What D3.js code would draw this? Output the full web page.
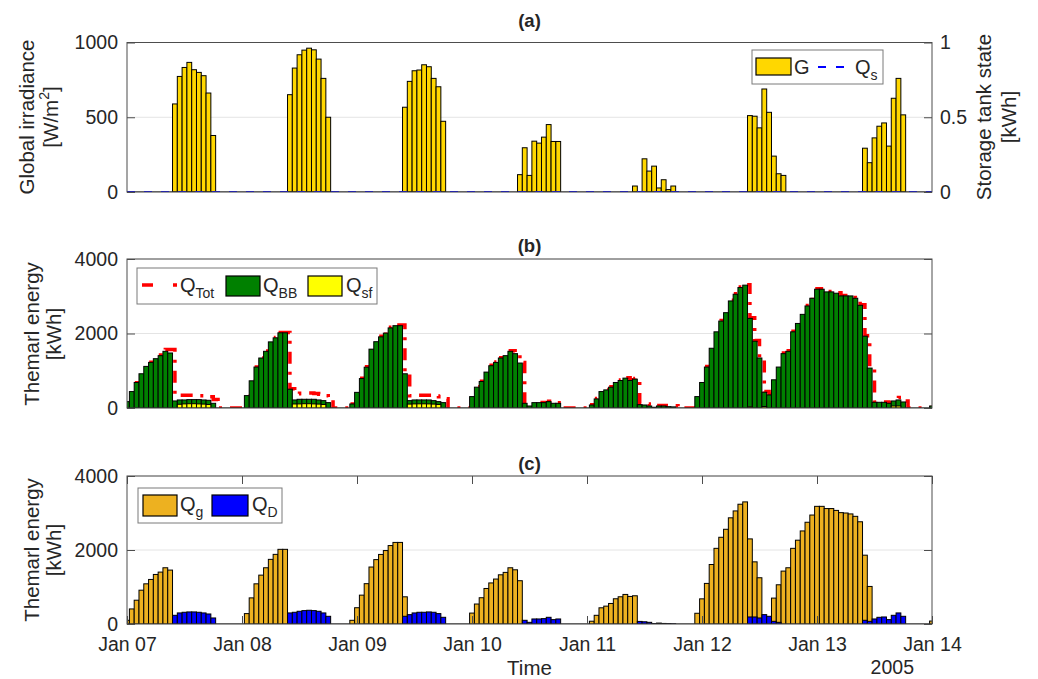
<!DOCTYPE html>
<html><head><meta charset="utf-8">
<script src="https://cdn.jsdelivr.net/npm/d3@7"></script>
<style>body{margin:0;background:#fff}svg text{font-family:"Liberation Sans",Arial,Helvetica,sans-serif;fill:#262626}</style>
</head><body><svg id="c" width="1038" height="679"></svg>
<script>
// ---------- DATA (hourly, 2005-01-07 00:00 .. 2005-01-14 00:00) ----------
const dayTicks = ["Jan 07","Jan 08","Jan 09","Jan 10","Jan 11","Jan 12","Jan 13","Jan 14"];
const yearLabel = "2005";
const G = [
 0,0,0,0,0,0,0,0,0,0,589,773,833,867,818,800,778,662,378,0,0,0,0,0,
 0,0,0,0,0,0,0,0,0,0,651,829,918,949,962,951,889,760,500,0,0,0,0,0,
 0,0,0,0,0,0,0,0,0,0,567,740,811,816,851,838,760,704,473,0,0,0,0,0,
 0,0,0,0,0,0,0,0,0,0,116,296,111,340,327,367,451,338,338,0,0,0,0,0,
 0,0,0,0,0,0,0,0,0,0,40,0,222,140,173,27,82,16,40,0,0,0,0,0,
 0,0,0,0,0,0,0,0,0,0,511,507,429,689,533,240,122,111,0,0,0,0,0,0,
 0,0,0,0,0,0,0,0,0,0,293,196,362,440,462,307,627,760,516,0,0,0,0,0,
 0];
const Qs = [0,0];            // storage tank state at first and last hour
const QsHours = [0,168];
const QTot = [
 100,440,680,930,1110,1230,1350,1420,1570,1570,330,340,340,340,340,330,310,300,230,0,0,0,0,0,
 0,330,730,1100,1340,1530,1775,1890,2030,2030,520,380,396,400,400,390,370,330,250,0,0,0,0,110,
 420,800,1110,1600,1800,1925,2030,2170,2230,2230,930,330,340,340,340,340,320,300,250,0,0,0,0,0,
 320,570,720,975,1145,1235,1350,1415,1535,1470,1220,140,80,150,150,150,180,140,140,0,0,0,0,0,
 0,90,255,450,495,570,695,750,815,760,790,120,110,60,40,70,70,65,60,0,0,0,0,320,
 700,1115,1620,2060,2350,2575,2890,3070,3250,3310,2420,1810,1360,440,370,770,1115,1475,1540,2060,2285,2530,2755,2960,
 3200,3200,3130,3130,3095,3020,3020,3020,2960,2770,1940,1090,160,160,160,140,240,280,190,0,0,0,0,0,
 60];
const QBB = [
 171,441,685,919,1117,1225,1324,1405,1522,1477,189,216,216,225,225,225,216,207,126,0,0,0,0,0,
 0,333,730,1099,1342,1522,1775,1883,2018,2018,505,216,234,234,234,234,216,198,144,0,0,0,0,108,
 420,790,1095,1580,1780,1910,2010,2150,2210,2210,919,198,216,216,216,216,198,171,144,0,0,0,0,0,
 306,559,712,964,1135,1225,1342,1405,1522,1459,1207,126,54,144,144,144,171,126,126,0,0,0,0,0,
 0,81,243,441,486,559,685,739,802,739,775,90,81,54,20,54,54,36,30,0,0,0,0,306,
 685,1099,1604,2045,2334,2559,2874,3054,3234,3298,2406,1793,1342,423,351,757,1099,1459,1522,2045,2270,2514,2739,2946,
 3189,3189,3117,3117,3081,3009,3009,3009,2946,2757,1928,1072,153,153,153,126,189,216,162,0,0,0,0,0,
 54];
const Qsf = [
 0,0,0,0,0,0,0,0,0,0,0,100,110,115,115,110,105,95,0,0,0,0,0,0,
 0,0,0,0,0,0,0,0,0,0,0,108,110,115,115,110,105,95,0,0,0,0,0,0,
 0,0,0,0,0,0,0,0,0,0,0,105,110,112,112,110,105,95,0,0,0,0,0,0,
 0,0,0,0,0,0,0,0,0,0,0,0,0,0,0,0,0,0,0,0,0,0,0,0,
 0,0,0,0,0,0,0,0,0,0,0,0,0,0,0,0,0,0,0,0,0,0,0,0,
 0,0,0,0,0,0,0,0,0,0,30,0,0,40,0,0,0,0,0,0,0,0,0,0,
 0,0,0,0,0,0,0,0,0,0,0,0,0,0,0,0,54,54,0,0,0,0,0,0,
 0];
const Qg = [
 100,407,643,914,1086,1204,1339,1403,1520,1457,0,0,0,0,0,0,0,0,0,0,0,0,0,0,
 0,281,706,1086,1321,1520,1747,1882,2018,2018,0,0,0,0,0,0,0,0,0,0,0,0,0,100,
 440,780,1090,1540,1740,1880,1985,2120,2205,2205,735,0,0,0,0,0,0,0,0,0,0,0,0,0,
 295,540,710,960,1110,1215,1330,1395,1520,1465,1170,0,0,0,0,0,0,0,0,0,0,0,0,0,
 0,75,235,438,483,555,682,736,799,745,763,0,0,0,0,0,0,0,0,0,0,0,0,290,
 680,1097,1608,2045,2344,2560,2870,3056,3237,3300,2300,1680,1250,0,0,700,1060,1430,1520,2045,2265,2515,2750,2945,
 3180,3180,3120,3120,3070,3010,3000,2975,2910,2763,1860,1015,0,0,0,0,0,0,0,0,0,0,0,0,
 80];
const QD = [
 0,0,0,0,0,0,0,0,0,0,235,299,317,326,326,317,299,271,163,0,0,0,0,0,
 0,0,0,0,0,0,0,0,0,0,299,317,344,362,371,362,344,299,208,0,0,0,0,0,
 0,0,0,0,0,0,0,0,0,0,208,253,299,317,317,326,317,281,181,0,0,0,0,0,
 0,0,0,0,0,0,0,0,0,0,0,100,45,136,136,145,181,118,136,0,0,0,0,0,
 0,0,0,0,0,0,0,0,0,0,0,70,60,45,10,25,15,10,5,0,0,0,0,0,
 0,0,0,0,0,0,0,0,0,0,190,190,163,253,208,72,45,0,0,0,0,0,0,0,
 0,0,0,0,0,0,0,0,0,0,100,72,136,181,190,118,235,299,208,0,0,0,0,0,
 0];
const ticksA = [0,500,1000];
const ticksA2 = [0,0.5,1];
const ticksBC = [0,2000,4000];

// ---------- LAYOUT ----------
const svg = d3.select("#c");
const XL = 127, XR = 932;
const t0 = Date.UTC(2005,0,7);
const hr = h => new Date(t0 + h*3600e3);
const x = d3.scaleUtc().domain([hr(0), hr(168)]).range([XL, XR]);
const bw = x(hr(1)) - x(hr(0));
const AX = "#4d4d4d";
const TICKFS = 19.5, LABFS = 20.5, LEGFS = 20, SUBFS = 14;

function panel(id, top, bot, ymax, yt) {
  const y = d3.scaleLinear().domain([0, ymax]).range([bot, top]);
  svg.append("clipPath").attr("id", "clip"+id).append("rect")
    .attr("x", XL).attr("y", top).attr("width", XR-XL).attr("height", bot-top);
  const g = svg.append("g");
  g.selectAll("line.grid").data(yt).join("line")
    .attr("x1", XL).attr("x2", XR).attr("y1", d=>y(d)).attr("y2", d=>y(d))
    .attr("stroke", "#e4e4e4").attr("stroke-width", 1);
  const plot = g.append("g").attr("clip-path", `url(#clip${id})`);
  return {g, plot, y, top, bot};
}
function bars(P, vals, fill) {
  P.plot.append("g").selectAll("rect")
    .data(vals.map((v,i)=>({v,i})).filter(d=>d.v>0)).join("rect")
    .attr("x", d=>x(hr(d.i))-bw/2).attr("width", bw)
    .attr("y", d=>P.y(d.v)).attr("height", d=>P.y(0)-P.y(d.v))
    .attr("fill", fill).attr("stroke", "#000").attr("stroke-width", 1);
}
function baseline(P) {
  P.plot.append("line").attr("x1", XL).attr("x2", XR)
    .attr("y1", P.y(0)).attr("y2", P.y(0)).attr("stroke", "#000").attr("stroke-width", 1.2);
}
function styleAxis(a) {
  a.select(".domain").remove();
  a.selectAll("line").attr("stroke", AX);
  a.selectAll("text").attr("font-size", TICKFS).attr("fill", "#262626")
    .attr("font-family", '"Liberation Sans",Arial,sans-serif');
}
function frame(P, leftFmt, rightScale, rightFmt) {
  P.g.append("rect").attr("x", XL).attr("y", P.top).attr("width", XR-XL).attr("height", P.bot-P.top)
    .attr("fill", "none").attr("stroke", AX).attr("stroke-width", 1);
  const la = P.g.append("g").attr("transform", `translate(${XL},0)`)
    .call(d3.axisLeft(P.y).tickValues(P.yt).tickSize(-8).tickPadding(9).tickFormat(leftFmt));
  const ra = P.g.append("g").attr("transform", `translate(${XR},0)`)
    .call(d3.axisRight(rightScale).tickValues(rightScale === P.y ? P.yt : ticksA2).tickSize(-8).tickPadding(8).tickFormat(rightFmt));
  styleAxis(la); styleAxis(ra);
}
function title(txt, yb) {
  svg.append("text").attr("x", (XL+XR)/2).attr("y", yb).attr("text-anchor", "middle")
    .attr("font-size", 18.5).attr("font-weight", "bold").attr("fill", "#000").text(txt);
}
function ylab(lines, xs, yc) {
  lines.forEach((ln, k) => {
    const t = svg.append("text").attr("transform", `translate(${xs[k]},${yc}) rotate(-90)`)
      .attr("text-anchor", "middle").attr("font-size", LABFS);
    ln.forEach(seg => {
      const s = t.append("tspan").text(seg.t);
      if (seg.sup) s.attr("font-size", 14).attr("dy", -9);
      if (seg.back) s.attr("dy", 9);
    });
  });
}
function legendText(g, xx, yy, main, sub) {
  const t = g.append("text").attr("x", xx).attr("y", yy).attr("font-size", LEGFS);
  t.append("tspan").text(main);
  t.append("tspan").text(sub).attr("font-size", SUBFS).attr("dy", 6);
}

// ---------- PANEL (a) ----------
const A = panel("a", 42.5, 192, 1000, ticksA); A.yt = ticksA;
const yA2 = d3.scaleLinear().domain([0,1]).range([192, 42.5]);
bars(A, G, "#FFD700");
baseline(A);
A.plot.append("path").datum(QsHours.map((h,i)=>[h, Qs[i]]))
  .attr("d", d3.line().x(d=>x(hr(d[0]))).y(d=>yA2(d[1])))
  .attr("fill", "none").attr("stroke", "#0000FF").attr("stroke-width", 2).attr("stroke-dasharray", "8,9");
frame(A, d3.format("d"), yA2, d=> d===0.5 ? "0.5" : d3.format("d")(d));
title("(a)", 27);
ylab([[{t:"Global irradiance"}], [{t:"[W/m"},{t:"2",sup:true},{t:"]",back:true}]], [34, 58], 117);
ylab([[{t:"Storage tank state"}], [{t:"[kWh]"}]], [991, 1016], 117);
{
  const lg = svg.append("g");
  lg.append("rect").attr("x", 752).attr("y", 50).attr("width", 131).attr("height", 34)
    .attr("fill", "#fff").attr("stroke", "#7a7a7a");
  lg.append("rect").attr("x", 756).attr("y", 58).attr("width", 35).attr("height", 17)
    .attr("fill", "#FFD700").attr("stroke", "#000").attr("stroke-width", 1.2);
  lg.append("text").attr("x", 794).attr("y", 74).attr("font-size", LEGFS).text("G");
  lg.append("line").attr("x1", 818).attr("x2", 846).attr("y1", 67).attr("y2", 67)
    .attr("stroke", "#0000FF").attr("stroke-width", 2).attr("stroke-dasharray", "8,10");
  legendText(lg, 855, 74, "Q", "s");
}

// ---------- PANEL (b) ----------
const B = panel("b", 259, 408, 4000, ticksBC); B.yt = ticksBC;
B.plot.append("path").datum(QTot.map((v,i)=>[i,v]))
  .attr("d", d3.line().curve(d3.curveStepAfter).x(d=>x(hr(d[0]))).y(d=>B.y(d[1])))
  .attr("fill", "none").attr("stroke", "#FF0000").attr("stroke-width", 3.5)
  .attr("stroke-dasharray", "12,8,3,8");
baseline(B);
bars(B, QBB, "#008000");
bars(B, Qsf, "#FFFF00");
frame(B, d3.format("d"), B.y, "");
title("(b)", 252);
ylab([[{t:"Themarl energy"}], [{t:"[kWh]"}]], [39, 61], 334);
{
  const lg = svg.append("g");
  lg.append("rect").attr("x", 137).attr("y", 268).attr("width", 240).attr("height", 36)
    .attr("fill", "#fff").attr("stroke", "#7a7a7a");
  lg.append("line").attr("x1", 142).attr("x2", 177).attr("y1", 285).attr("y2", 285)
    .attr("stroke", "#FF0000").attr("stroke-width", 3.5).attr("stroke-dasharray", "11,20,4,20");
  legendText(lg, 180, 292, "Q", "Tot");
  lg.append("rect").attr("x", 226).attr("y", 276).attr("width", 34).attr("height", 20)
    .attr("fill", "#008000").attr("stroke", "#000").attr("stroke-width", 1.2);
  legendText(lg, 263, 292, "Q", "BB");
  lg.append("rect").attr("x", 308).attr("y", 276).attr("width", 34).attr("height", 20)
    .attr("fill", "#FFFF00").attr("stroke", "#000").attr("stroke-width", 1.2);
  legendText(lg, 346, 292, "Q", "sf");
}

// ---------- PANEL (c) ----------
const C = panel("c", 476, 624, 4000, ticksBC); C.yt = ticksBC;
baseline(C);
bars(C, Qg, "#EDB120");
bars(C, QD, "#0000FF");
frame(C, d3.format("d"), C.y, "");
const days = d3.range(0, 8).map(d => hr(d*24));
const xa = C.g.append("g").attr("transform", `translate(0,624)`)
  .call(d3.axisBottom(x).tickValues(days).tickSize(-8).tickPadding(13).tickFormat((d,i)=>dayTicks[i]));
const xt = C.g.append("g").attr("transform", `translate(0,476)`)
  .call(d3.axisTop(x).tickValues(days).tickSize(-8).tickFormat(""));
styleAxis(xa); styleAxis(xt);
svg.append("text").attr("x", 914).attr("y", 674).attr("text-anchor", "end").attr("font-size", TICKFS).text(yearLabel);
svg.append("text").attr("x", (XL+XR)/2).attr("y", 675).attr("text-anchor", "middle").attr("font-size", LABFS).text("Time");
title("(c)", 470);
ylab([[{t:"Themarl energy"}], [{t:"[kWh]"}]], [39, 61], 550);
{
  const lg = svg.append("g");
  lg.append("rect").attr("x", 138).attr("y", 488).attr("width", 144).attr("height", 35)
    .attr("fill", "#fff").attr("stroke", "#7a7a7a");
  lg.append("rect").attr("x", 143).attr("y", 495).attr("width", 34).attr("height", 21)
    .attr("fill", "#EDB120").attr("stroke", "#000").attr("stroke-width", 1.2);
  legendText(lg, 180, 511, "Q", "g");
  lg.append("rect").attr("x", 212).attr("y", 495).attr("width", 36).attr("height", 21)
    .attr("fill", "#0000FF").attr("stroke", "#000").attr("stroke-width", 1.2);
  legendText(lg, 252, 511, "Q", "D");
}
</script></body></html>
